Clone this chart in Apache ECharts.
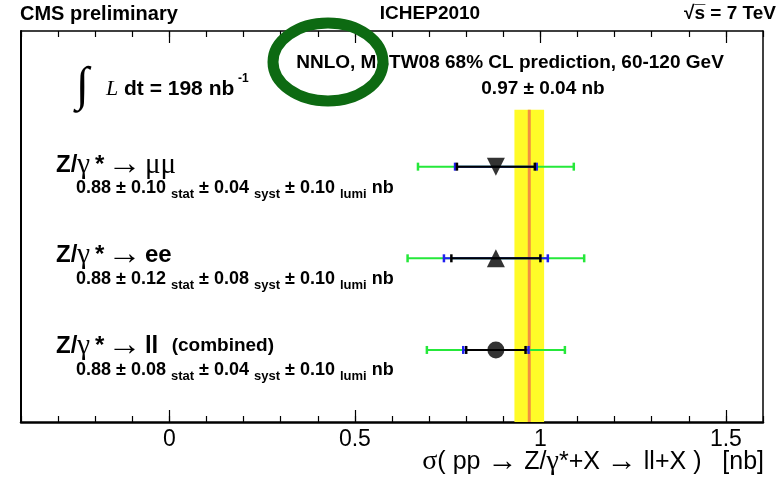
<!DOCTYPE html>
<html>
<head>
<meta charset="utf-8">
<script src="https://cdn.jsdelivr.net/npm/echarts@6/dist/echarts.min.js"></script>
<style>
html, body { margin: 0; padding: 0; background: #fff; }
#main { width: 781px; height: 479px; }
</style>
</head>
<body>
<div id="main"></div>
<script>
// measurements, top to bottom
var channels = ['μμ', 'ee', 'll'];
var rowPos = [3, 2, 1];
var central = [0.88, 0.88, 0.88];
var statErr = [0.105, 0.12, 0.08];
var statSystErr = [0.11, 0.14, 0.088];
var totalErr = [0.21, 0.238, 0.186];
var markers = ['triangle', 'triangle', 'circle'];
var markerRotate = [180, 0, 0];

// labels printed next to each measurement
var centralLabel = ['0.88', '0.88', '0.88'];
var statLabel = ['0.10', '0.12', '0.08'];
var systLabel = ['0.04', '0.08', '0.04'];
var lumiLabel = ['0.10', '0.10', '0.10'];

// theory prediction
var predCentral = 0.97;
var predErr = 0.04;
var bandTop = 3.62;

// axis ticks
var majorTicks = [0, 0.5, 1, 1.5];

var sans = '"Liberation Sans", Arial, Helvetica, sans-serif';
var serif = '"Liberation Serif", "Times New Roman", serif';

var myChart = echarts.init(document.getElementById('main'));

function bandRender(params, api) {
    var c = api.value(0), e = api.value(1);
    var ymin = 0.214;
    var p1 = api.coord([c - e, bandTop]);
    var p2 = api.coord([c + e, ymin]);
    var m1 = api.coord([c, bandTop]);
    var m2 = api.coord([c, ymin]);
    return {
        type: 'group',
        children: [
            {type: 'rect', shape: {x: p1[0], y: p1[1], width: p2[0] - p1[0], height: p2[1] - p1[1]},
             style: {fill: '#fffb28'}},
            {type: 'line', shape: {x1: m1[0], y1: m1[1], x2: m2[0], y2: m2[1]},
             style: {stroke: '#f29040', lineWidth: 3}}
        ]
    };
}

function errRender(params, api) {
    var y = api.value(0), c = api.value(1);
    var parts = [[api.value(4), '#25e83a'], [api.value(3), '#2020f0'], [api.value(2), '#000']];
    var children = [];
    parts.forEach(function (p) {
        var a = api.coord([c - p[0], y]), b = api.coord([c + p[0], y]);
        children.push({type: 'line', shape: {x1: a[0], y1: a[1], x2: b[0], y2: b[1]},
            style: {stroke: p[1], lineWidth: 2}});
        [a, b].forEach(function (q) {
            children.push({type: 'line', shape: {x1: q[0], y1: q[1] - 4, x2: q[0], y2: q[1] + 4},
                style: {stroke: p[1], lineWidth: 2.5}});
        });
    });
    return {type: 'group', children: children};
}

var errData = rowPos.map(function (r, i) {
    return [r, central[i], statErr[i], statSystErr[i], totalErr[i]];
});
var pointData = central.map(function (c, i) {
    return {value: [c, rowPos[i]], symbol: markers[i], symbolRotate: markerRotate[i],
        symbolSize: markers[i] == 'circle' ? 17 : 18};
});

// label texts
var titleRich = {
    b: {fontFamily: sans, fontWeight: 'bold', fontSize: 24, color: '#000'},
    g: {fontFamily: serif, fontSize: 29, color: '#000'},
    a: {fontFamily: serif, fontSize: 34, color: '#000'},
    c: {fontFamily: sans, fontWeight: 'bold', fontSize: 19, color: '#000'}
};
var valueRich = {
    v: {fontFamily: sans, fontWeight: 'bold', fontSize: 18, lineHeight: 26, color: '#000'},
    s: {fontFamily: sans, fontWeight: 'bold', fontSize: 13, lineHeight: 12, verticalAlign: 'bottom', color: '#000'}
};
var titles = [
    '{b|Z/}{g|γ}{b|\u2009*} {a|→} {g|μμ}',
    '{b|Z/}{g|γ}{b|\u2009*} {a|→} {b|ee}',
    '{b|Z/}{g|γ}{b|\u2009*} {a|→} {b|ll}    {c|(combined)}'
];
var titleY = [165, 255, 346];
var valueY = [188, 279, 370];

var graphics = [
    {type: 'text', x: 20, y: 14, style: {text: 'CMS preliminary', font: 'bold 20px ' + sans, fill: '#000', verticalAlign: 'middle'}},
    {type: 'text', x: 430, y: 14, style: {text: 'ICHEP2010', font: 'bold 19px ' + sans, fill: '#000', align: 'center', verticalAlign: 'middle'}},
    {type: 'text', x: 776, y: 14, style: {text: '√s̅ = 7 TeV', font: 'bold 19px ' + sans, fill: '#000', align: 'right', verticalAlign: 'middle'}},
    // integrated luminosity
    {type: 'text', x: 76, y: 87, style: {text: '∫', font: '48px ' + serif, fill: '#000', verticalAlign: 'middle'}},
    {type: 'text', x: 106, y: 89, style: {text: 'L', font: 'italic 22px ' + serif, fill: '#000', verticalAlign: 'middle'}},
    {type: 'text', x: 124, y: 89, style: {text: 'dt = 198 nb', font: 'bold 21px ' + sans, fill: '#000', verticalAlign: 'middle'}},
    {type: 'text', x: 238, y: 79, style: {text: '-1', font: 'bold 12px ' + sans, fill: '#000', verticalAlign: 'middle'}},
    {type: 'text', x: 510, y: 63, style: {text: 'NNLO, MSTW08 68% CL prediction, 60-120 GeV', font: 'bold 19px ' + sans, fill: '#000', align: 'center', verticalAlign: 'middle'}},
    {type: 'text', x: 543, y: 89, style: {text: predCentral.toFixed(2) + ' ± ' + predErr.toFixed(2) + ' nb', font: 'bold 19px ' + sans, fill: '#000', align: 'center', verticalAlign: 'middle'}},
    {type: 'text', x: 764, y: 462, style: {
        text: '{g|σ}{r|( pp }{a|→}{r| Z/}{g|γ}{r|*+X }{a|→}{r| ll+X )   [nb]}',
        align: 'right', verticalAlign: 'middle',
        rich: {
            g: {fontFamily: serif, fontSize: 28, color: '#000'},
            a: {fontFamily: serif, fontSize: 30, color: '#000'},
            r: {fontFamily: sans, fontSize: 25, color: '#000'}
        }
    }},
    {type: 'ellipse', z: 100, shape: {cx: 328, cy: 62, rx: 55, ry: 39},
        style: {fill: 'none', stroke: '#0d6a12', lineWidth: 11}}
];
titles.forEach(function (t, i) {
    graphics.push({type: 'text', x: 56, y: titleY[i], style: {text: t, rich: titleRich, verticalAlign: 'middle'}});
    graphics.push({type: 'text', x: 76, y: valueY[i], style: {
        text: '{v|' + centralLabel[i] + ' ± ' + statLabel[i] + ' }{s|stat}{v| ± ' + systLabel[i] + ' }{s|syst}{v| ± ' + lumiLabel[i] + ' }{s|lumi}{v| nb}',
        rich: valueRich, verticalAlign: 'middle'}});
});

var xBase = {type: 'value', min: -0.4, max: 1.6, splitLine: {show: false}};

var option = {
    animation: false,
    grid: {left: 21, right: 18, top: 31, bottom: 57},
    xAxis: [
        Object.assign({}, xBase, {position: 'bottom', interval: 0.1,
            axisLine: {onZero: false, lineStyle: {color: '#000', width: 2.5}},
            axisTick: {inside: true, length: 6, lineStyle: {color: '#000', width: 1.2}},
            axisLabel: {show: false}}),
        Object.assign({}, xBase, {position: 'bottom',
            axisLine: {show: false, onZero: false},
            axisTick: {inside: true, length: 12, customValues: majorTicks, lineStyle: {color: '#000', width: 1.2}},
            axisLabel: {customValues: majorTicks, fontFamily: sans, fontSize: 23, color: '#000', margin: 6}}),
        Object.assign({}, xBase, {position: 'top', interval: 0.1,
            axisLine: {onZero: false, lineStyle: {color: '#000', width: 1.5}},
            axisTick: {inside: true, length: 6, lineStyle: {color: '#000', width: 1.2}},
            axisLabel: {show: false}}),
        Object.assign({}, xBase, {position: 'top',
            axisLine: {show: false, onZero: false},
            axisTick: {inside: true, length: 12, customValues: majorTicks, lineStyle: {color: '#000', width: 1.2}},
            axisLabel: {show: false}})
    ],
    yAxis: [
        {type: 'value', min: 0.214, max: 4.48, position: 'left', splitLine: {show: false},
            axisLine: {show: true, onZero: false, lineStyle: {color: '#000', width: 2}}, axisTick: {show: false}, axisLabel: {show: false}},
        {type: 'value', min: 0.214, max: 4.48, position: 'right', splitLine: {show: false},
            axisLine: {show: true, onZero: false, lineStyle: {color: '#000', width: 1.5}}, axisTick: {show: false}, axisLabel: {show: false}}
    ],
    series: [
        {type: 'custom', name: 'prediction', renderItem: bandRender, z: 1, silent: true,
            encode: {x: 0}, data: [[predCentral, predErr]]},
        {type: 'custom', name: 'errors', renderItem: errRender, z: 2, silent: true,
            encode: {x: 1, y: 0}, data: errData},
        {type: 'scatter', name: 'points', z: 3, silent: true,
            itemStyle: {color: '#000'}, data: pointData}
    ],
    graphic: graphics
};

myChart.setOption(option);
</script>
</body>
</html>
